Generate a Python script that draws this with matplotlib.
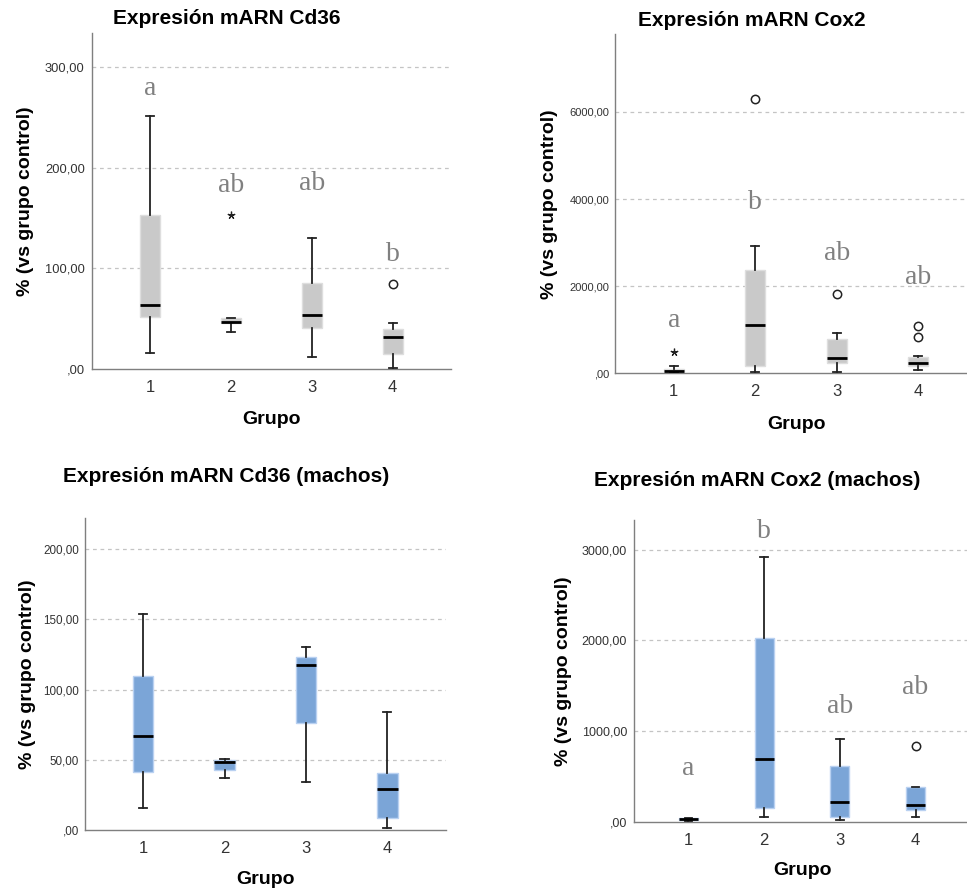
import matplotlib
matplotlib.use("Agg")
import matplotlib.pyplot as plt
from matplotlib.ticker import FuncFormatter

plt.rcParams['font.family'] = ['Liberation Sans', 'DejaVu Sans']

grupos = [1, 2, 3, 4]

# Cd36 (todos)
cd36_lo = [15.6, 36.4, 11.6, 1.0]
cd36_q1 = [51.3, 45.4, 40.4, 14.6]
cd36_med = [63.5, 47.0, 53.3, 31.5]
cd36_q3 = [153.0, 50.3, 85.0, 39.7]
cd36_hi = [251.0, 50.3, 130.0, 45.4]
cd36_circ = [[], [], [], [84.0]]
cd36_star = [[], [153.0], [], []]
cd36_letras = ['a', 'ab', 'ab', 'b']
cd36_letras_y = [272, 176, 178, 107]

# Cox2 (todos)
cox2_lo = [0, 20, 20, 76]
cox2_q1 = [20, 175, 229, 175]
cox2_med = [50, 1108, 344, 229]
cox2_q3 = [100, 2370, 787, 381]
cox2_hi = [167, 2928, 917, 404]
cox2_circ = [[], [6300], [1820], [1085, 840]]
cox2_star = [[482], [], [], []]
cox2_letras = ['a', 'b', 'ab', 'ab']
cox2_letras_y = [1069, 3762, 2599, 2048]

# Cd36 (machos)
cd36m_lo = [15.7, 36.8, 34.4, 1.7]
cd36m_q1 = [41.5, 42.7, 76.0, 8.8]
cd36m_med = [67.2, 48.4, 117.3, 29.0]
cd36m_q3 = [109.9, 49.9, 123.4, 40.4]
cd36m_hi = [153.6, 50.5, 130.6, 84.3]

# Cox2 (machos)
cox2m_lo = [7, 55, 18, 55]
cox2m_q1 = [18, 155, 55, 129]
cox2m_med = [29, 688, 213, 184]
cox2m_q3 = [37, 2023, 618, 379]
cox2m_hi = [44, 2925, 909, 386]
cox2m_circ = [[], [], [], [835]]
cox2m_letras = ['a', 'b', 'ab', 'ab']
cox2m_letras_y = [515, 3127, 1196, 1405]

W, H = 967, 893
fig = plt.figure(figsize=(W / 100, H / 100), dpi=100)


def fmt(v, pos):
    s = f"{v:.2f}".replace('.', ',')
    if s.startswith('0,'):
        s = s[1:]
    return s


def panel(box, lo, q1, med, q3, hi, circ, star, letras, letras_y,
          ymax, yticks, title, face, edge, ytick_size, ytick_pad,
          title_xy, ylab_x, xlab_y):
    left, right, top, bottom = box
    ax = fig.add_axes([left / W, 1 - bottom / H, (right - left) / W,
                       (bottom - top) / H])
    stats = []
    for i in range(len(grupos)):
        stats.append(dict(whislo=lo[i], q1=q1[i], med=med[i], q3=q3[i],
                          whishi=hi[i], fliers=circ[i] if circ else []))
    ax.bxp(stats, positions=grupos, widths=0.25, capwidths=0.1,
           patch_artist=True,
           boxprops=dict(facecolor=face, edgecolor=edge, linewidth=1.0),
           medianprops=dict(color='black', linewidth=2.0),
           whiskerprops=dict(color='#222222', linewidth=1.3),
           capprops=dict(color='#222222', linewidth=1.3),
           flierprops=dict(marker='o', markerfacecolor='none',
                           markeredgecolor='#222222', markersize=6,
                           markeredgewidth=1.1),
           zorder=3)
    if star:
        for i, vals in enumerate(star):
            for v in vals:
                ax.plot(grupos[i], v, marker=(5, 2, 0), color='#222222',
                        markersize=5.5, markeredgewidth=0.9, linestyle='none',
                        zorder=4)
    if letras:
        for i, t in enumerate(letras):
            ax.text(grupos[i], letras_y[i], t, ha='center', va='baseline',
                    family='Liberation Serif', fontsize=20, color='#808080',
                    zorder=5)
    ax.set_xlim(0.28, 4.72)
    ax.set_ylim(0, ymax)
    ax.set_yticks(yticks)
    ax.yaxis.set_major_formatter(FuncFormatter(fmt))
    ax.set_xticks(grupos)
    ax.set_xticklabels([str(g) for g in grupos])
    for y in yticks[1:]:
        ax.axhline(y, color='#c4c4c4', linestyle=(0, (3, 3)), linewidth=0.9,
                   zorder=1)
    for s in ['top', 'right']:
        ax.spines[s].set_visible(False)
    for s in ['left', 'bottom']:
        ax.spines[s].set_color('#7f7f7f')
        ax.spines[s].set_linewidth(1.0)
    ax.tick_params(axis='both', length=0)
    ax.tick_params(axis='y', labelsize=ytick_size, labelcolor='#333333',
                   pad=ytick_pad)
    ax.tick_params(axis='x', labelsize=12, labelcolor='#333333', pad=8)

    fig.text(title_xy[0] / W, 1 - title_xy[1] / H, title, ha='center',
             va='center', fontsize=15, fontweight='bold')
    ax.set_xlabel('Grupo', fontsize=14, fontweight='bold', va='center')
    ax.xaxis.set_label_coords(0.5, -(xlab_y - bottom) / (bottom - top))
    ax.set_ylabel('% (vs grupo control)', fontsize=14, fontweight='bold',
                  va='center')
    ax.yaxis.set_label_coords((ylab_x - left) / (right - left), 0.5)
    return ax


gris = '#c9c9c9'
gris_borde = '#dedede'
azul = '#7ba5d7'
azul_borde = '#b9d1f1'

panel((91.7, 451, 33, 369), cd36_lo, cd36_q1, cd36_med, cd36_q3, cd36_hi,
      cd36_circ, cd36_star, cd36_letras, cd36_letras_y, 334,
      [0, 100, 200, 300], 'Expresión mARN Cd36', gris, gris_borde, 9.3, 5,
      (226.7, 19), 25.5, 420)

panel((615, 977, 34.3, 373.3), cox2_lo, cox2_q1, cox2_med, cox2_q3, cox2_hi,
      cox2_circ, cox2_star, cox2_letras, cox2_letras_y, 7780,
      [0, 2000, 4000, 6000], 'Expresión mARN Cox2', gris, gris_borde, 8, 4,
      (751.8, 20.5), 549, 424)

panel((84.5, 446, 518.3, 830), cd36m_lo, cd36m_q1, cd36m_med, cd36m_q3,
      cd36m_hi, None, None, None, None, 222, [0, 50, 100, 150, 200],
      'Expresión mARN Cd36 (machos)', azul, azul_borde, 8.4, 4,
      (225.8, 477), 27, 880)

panel((634, 970, 520, 821.7), cox2m_lo, cox2m_q1, cox2m_med, cox2m_q3,
      cox2m_hi, cox2m_circ, None, cox2m_letras, cox2m_letras_y, 3330,
      [0, 1000, 2000, 3000], 'Expresión mARN Cox2 (machos)', azul,
      azul_borde, 9, 5, (756.7, 480), 563.5, 870.5)

fig.savefig('out.png', dpi=100, facecolor='white')
